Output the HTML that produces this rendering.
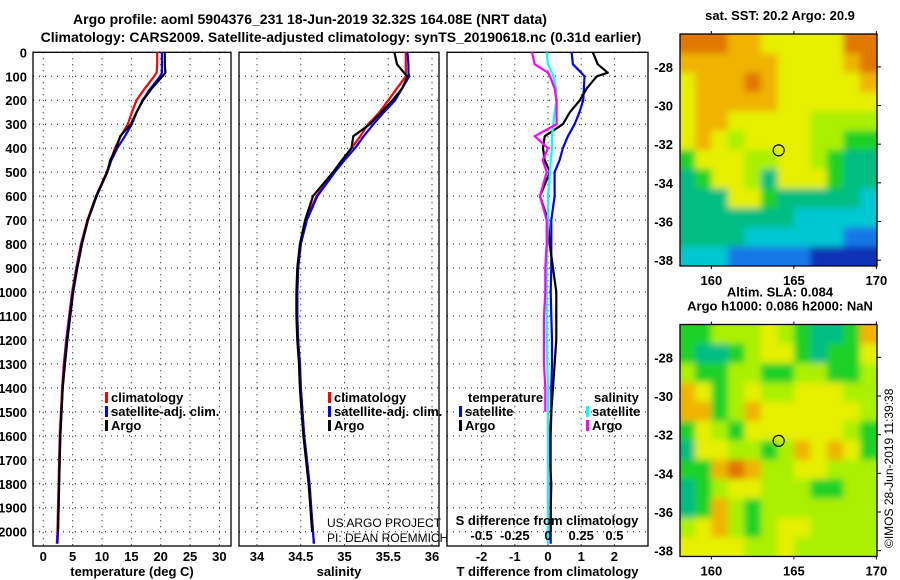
<!DOCTYPE html>
<html><head><meta charset="utf-8"><style>
html,body{margin:0;padding:0;background:#fff;}
svg{display:block;font-family:"Liberation Sans",Arial,sans-serif;}
.b{font-weight:bold;font-size:13px;}
.t{font-weight:bold;font-size:14px;}
</style></head><body>
<svg id="chart" width="900" height="580" viewBox="0 0 900 580" xmlns="http://www.w3.org/2000/svg">
<defs><filter id="blur" x="-5%" y="-5%" width="110%" height="110%"><feGaussianBlur stdDeviation="3.5"/></filter></defs>
<text class="t" x="310" y="24" text-anchor="middle">Argo profile: aoml 5904376_231 18-Jun-2019 32.32S 164.08E (NRT data)</text>
<text class="t" x="341" y="42" text-anchor="middle">Climatology: CARS2009. Satellite-adjusted climatology: synTS_20190618.nc (0.31d earlier)</text>
<g id="g"></g>
</svg>
<script>
const depths=[0,50,85,100,150,200,250,300,350,400,450,500,600,700,800,900,1000,1100,1200,1300,1400,1500,1600,1700,1800,1900,2000,2050];
const tempClim=[19.4,19.4,19.3,18.9,17.3,15.9,15.1,14.4,13.2,12.2,11.5,10.8,9.0,7.5,6.4,5.6,4.9,4.4,3.9,3.5,3.2,3.0,2.8,2.7,2.6,2.5,2.4,2.3];
const tempSat=[20.2,20.2,20.2,19.9,18.3,16.9,15.9,15.1,13.9,12.6,11.6,10.9,9.1,7.6,6.5,5.7,5.0,4.5,4.0,3.6,3.3,3.1,2.9,2.8,2.7,2.6,2.5,2.4];
const tempArgo=[20.7,20.7,20.8,20.3,18.5,17.0,15.9,14.9,13.1,12.4,11.4,10.9,9.0,7.6,6.6,5.8,5.1,4.6,4.1,3.7,3.3,3.1,2.9,2.8,2.7,2.6,2.5,null];
const salClim=[35.7,35.7,35.7,35.7,35.6,35.5,35.4,35.27,35.18,35.08,34.98,34.88,34.68,34.56,34.5,34.47,34.46,34.46,34.47,34.49,34.5,34.52,34.54,34.57,34.6,34.62,34.64,34.65];
const salSat=[35.72,35.73,35.73,35.74,35.66,35.58,35.45,35.33,35.22,35.12,35.0,34.89,34.69,34.57,34.5,34.47,34.46,34.46,34.47,34.49,34.5,34.52,34.54,34.57,34.6,34.62,34.64,34.65];
const salArgo=[35.57,35.6,35.68,35.72,35.66,35.55,35.42,35.29,35.1,35.08,34.97,34.87,34.64,34.55,34.49,34.46,34.45,34.45,34.46,34.48,34.49,34.51,34.53,34.56,34.59,34.61,34.63,null];
const tDiffSat=[0.71,0.75,1.0,1.1,1.08,1.06,0.95,0.8,0.6,0.45,0.35,0.2,0.2,0.1,0.1,0.1,0.08,0.1,0.12,0.12,0.1,0.1,0.08,0.08,0.08,0.08,0.08,0.08];
const tDiffArgo=[1.35,1.5,1.8,1.47,1.17,0.96,0.66,0.45,-0.1,-0.15,-0.1,0.06,-0.24,0.0,0.05,0.15,0.25,0.25,0.25,0.2,0.15,0.1,0.05,0.05,0.1,0.08,0.08,null];
const sDiffSat=[-0.01,0.0,0.03,0.04,0.06,0.065,0.05,0.04,0.03,0.03,0.02,0.015,0.0,0.0,-0.005,-0.01,-0.01,-0.01,-0.01,-0.005,0.0,0.0,0.0,0.0,0.0,0.0,0.0,0.0];
const sDiffArgo=[-0.12,-0.1,0.0,0.015,0.05,0.065,0.065,0.065,-0.1,0.0,-0.04,-0.01,-0.06,-0.01,-0.01,-0.02,-0.02,-0.03,-0.03,-0.03,-0.02,-0.02,null,null,null,null,null,null];
const depthTicks=[0,100,200,300,400,500,600,700,800,900,1000,1100,1200,1300,1400,1500,1600,1700,1800,1900,2000];
const tempTicks=[0,5,10,15,20,25,30];
const salTicks=[34,34.5,35,35.5,36];
const tdTicks=[-2,-1,0,1,2];
const sdTickLabels=["-0.5","-0.25","0","0.25","0.5"];
const sdTicks=[-0.5,-0.25,0,0.25,0.5];
const lonTicks=[160,165,170];
const latTicks=[-28,-30,-32,-34,-36,-38];
const lonCells=[158,159,160,161,162,163,164,165,166,167,168,169];
const sstGrid=[
[8,8,8,7,7,6,6,6,6,6,8,8],
[7,7,7,7,7,7,6,6,6,6,7,8],
[6,7,7,7,8,7,6,6,6,6,6,7],
[6,7,7,7,7,7,6,6,6,6,6,6],
[6,7,7,6,6,6,6,6,5,5,5,5],
[6,7,6,5,6,6,6,6,5,5,4,4],
[4,6,6,6,5,5,6,6,5,4,3,3],
[3,4,6,6,5,3,6,6,6,4,3,3],
[3,3,3,6,6,4,3,3,3,3,3,2],
[3,3,3,3,3,3,3,2,2,2,2,2],
[3,3,3,3,2,2,2,2,2,2,1,1],
[2,2,2,1,1,1,1,1,0,0,0,0]];
const slaGrid=[
[4,4,5,5,5,6,5,4,3,3,4,7],
[4,3,3,4,5,6,6,4,3,4,4,6],
[5,4,4,5,5,4,4,5,5,4,4,5],
[7,6,4,5,6,5,5,6,6,6,5,5],
[7,7,4,5,7,6,6,6,6,6,6,5],
[4,6,5,4,6,6,6,6,6,6,5,4],
[3,6,6,5,5,4,5,7,6,7,6,4],
[4,4,7,8,7,5,5,6,6,5,5,5],
[3,4,5,6,6,5,5,5,4,4,5,5],
[3,4,7,5,4,5,5,5,5,5,5,5],
[5,6,7,5,4,5,6,6,5,5,5,5],
[6,6,6,6,5,5,6,5,5,5,5,5]];
const palette=["#0a32b4","#1478e6","#00c8d2","#00be82","#1ed228","#aaf000","#e6f000","#f0b400","#e07800"];
const floatLon=164.08, floatLat=-32.32;

const NS="http://www.w3.org/2000/svg";
const G=document.getElementById('g');
function el(t,a,p){const e=document.createElementNS(NS,t);for(const k in a)e.setAttribute(k,a[k]);(p||G).appendChild(e);return e;}
function yD(d){return 52.3+d*0.2397;}
const xT=v=>43.3+v*5.87, xS=v=>257+(v-34)*87.5, xTD=v=>548+v*33.2, xSD=v=>548+v*132.8;

function panel(name,x0,x1,xf,xticks,xlabels,xtitle){
  const g=el('g',{});
  
  
  const top=52.3,bot=546;
  depthTicks.forEach(d=>{const l=el('line',{x1:x0,x2:x1,y1:yD(d),y2:yD(d),stroke:'#000','stroke-dasharray':'1,5','stroke-width':1},g);});
  xticks.forEach((v,i)=>{const x=xf(v);
    const l=el('line',{x1:x,x2:x,y1:top,y2:bot,stroke:'#000','stroke-dasharray':'1,5'},g);
    const t=el('text',{x:x,y:561,'text-anchor':'middle',class:'b'},g);t.textContent=xlabels[i];});
  const r=el('rect',{x:x0,y:top,width:x1-x0,height:bot-top,fill:'none',stroke:'#000','stroke-width':1.3},g);
  const t=el('text',{x:(x0+x1)/2,y:576,'text-anchor':'middle',class:'b'},g);t.textContent=xtitle;
  return g;
}
function line(g,arr,xf,color,name){
  let d='';let pen=false;
  arr.forEach((v,i)=>{if(v===null){pen=false;return;}d+=(pen?'L':'M')+xf(v).toFixed(1)+','+yD(depths[i]).toFixed(1);pen=true;});
  const p=el('path',{d:d,fill:'none',stroke:color,'stroke-width':2.2,'stroke-linejoin':'round'},g);
  
  
}
function txt(g,x,y,s,name,extra){const t=el('text',Object.assign({x:x,y:y,class:'b'},extra||{}),g);t.textContent=s;return t;}
function legend(g,x,y,color,s,name){const r=el('rect',{x:x,y:y-10,width:3,height:11,fill:color},g);txt(g,x+6,y,s,name);}

depthTicks.forEach(d=>{const t=el('text',{x:27,y:yD(d)+5,'text-anchor':'end',class:'b'});t.textContent=d;});

const p1=panel('temperature-panel',33,231,xT,tempTicks,tempTicks.map(String),'temperature (deg C)');
line(p1,tempClim,xT,'#ff0000','temp-climatology-line');
line(p1,tempSat,xT,'#0000ff','temp-satellite-line');
line(p1,tempArgo,xT,'#000000','temp-argo-line');
legend(p1,105,402,'#ff0000','climatology','legend-climatology');
legend(p1,105,416,'#0000ff','satellite-adj. clim.','legend-satellite');
legend(p1,105,430,'#000000','Argo','legend-argo');

const p2=panel('salinity-panel',239,439,xS,salTicks,salTicks.map(String),'salinity');
line(p2,salClim,xS,'#ff0000','sal-climatology-line');
line(p2,salSat,xS,'#0000ff','sal-satellite-line');
line(p2,salArgo,xS,'#000000','sal-argo-line');
legend(p2,328,402,'#ff0000','climatology','legend-climatology');
legend(p2,328,416,'#0000ff','satellite-adj. clim.','legend-satellite');
legend(p2,328,430,'#000000','Argo','legend-argo');
txt(p2,327,527,'US ARGO PROJECT','credit-project',{class:'',style:'font-size:12px'});
txt(p2,327,542,'PI: DEAN ROEMMICH','credit-pi',{class:'',style:'font-size:12px'});

const p3=panel('difference-panel',447,648,xTD,tdTicks,tdTicks.map(String),'T difference from climatology');
line(p3,tDiffSat,xTD,'#0000ff','tdiff-satellite-line');
line(p3,tDiffArgo,xTD,'#000000','tdiff-argo-line');
line(p3,sDiffSat,xSD,'#00ffff','sdiff-satellite-line');
line(p3,sDiffArgo,xSD,'#ff00ff','sdiff-argo-line');
txt(p3,468,402,'temperature','legend-temperature-heading');
legend(p3,459,416,'#0000ff','satellite','legend-t-satellite');
legend(p3,459,430,'#000000','Argo','legend-t-argo');
txt(p3,594,402,'salinity','legend-salinity-heading');
legend(p3,586,416,'#00ffff','satellite','legend-s-satellite');
legend(p3,586,430,'#ff00ff','Argo','legend-s-argo');
txt(p3,547,525,'S difference from climatology','s-diff-axis-title',{'text-anchor':'middle'});
sdTicks.forEach((v,i)=>txt(p3,xSD(v),540,sdTickLabels[i],'s-diff-tick-label',{'text-anchor':'middle'}));

const mx0=680,mx1=877,lonL=158.1,pxLon=16.5,pxLat=19.33;
function map(name,top,grid,title1,title2){
  const g=el('g',{});
  
  
  const latTop=-26.3;
  const X=lon=>mx0+(lon-lonL)*pxLon, Y=lat=>top+(latTop-lat)*pxLat;
  const bot=Y(-38.3);
  const cp=el('clipPath',{id:name+'-clip'},g);el('rect',{x:mx0,y:top,width:mx1-mx0,height:bot-top},cp);
  const outer=el('g',{'clip-path':'url(#'+name+'-clip)'},g);
  const cg=el('g',{filter:'url(#blur)'},outer);
  grid.forEach((row,r)=>row.forEach((v,c)=>{
    const lat0=-26.3-r*1.0;
    let x=X(lonCells[c]),w=pxLon+0.6,y=Y(lat0),h=pxLat+0.6;
    if(c===0){x-=10;w+=10;} if(c===row.length-1){w+=10;}
    if(r===0){y-=10;h+=10;} if(r===grid.length-1){h+=10;}
    const rc=el('rect',{x:x.toFixed(1),y:y.toFixed(1),width:w,height:h,fill:palette[v]},cg);
    
    
  }));
  const fr=el('rect',{x:mx0,y:top,width:mx1-mx0,height:bot-top,fill:'none',stroke:'#000','stroke-width':1.3},g);
  lonTicks.forEach(v=>{el('line',{x1:X(v),x2:X(v),y1:top-3,y2:top,stroke:'#000'},g);el('line',{x1:X(v),x2:X(v),y1:bot,y2:bot+3,stroke:'#000'},g);txt(g,X(v),bot+19,String(v),'lon-tick-label',{'text-anchor':'middle'});});
  latTicks.forEach(v=>{el('line',{x1:mx1,x2:mx1+4,y1:Y(v),y2:Y(v),stroke:'#000'},g);txt(g,673,Y(v)+5,String(v),'lat-tick-label',{'text-anchor':'end'});});
  const ci=el('circle',{cx:X(floatLon),cy:Y(floatLat),r:5.5,fill:'none',stroke:'#000','stroke-width':1.2},g);
  txt(g,780,top-14-(title2?14:0),title1,'map-title',{'text-anchor':'middle'});
  if(title2)txt(g,780,top-14,title2,'map-subtitle',{'text-anchor':'middle'});
}
map('sst-map',34,sstGrid,'sat. SST: 20.2 Argo: 20.9');
map('sla-map',324.5,slaGrid,'Altim. SLA: 0.084','Argo h1000: 0.086 h2000: NaN');
txt(G,0,0,'©IMOS 28-Jun-2019 11:39:38','timestamp',{transform:'translate(893,548) rotate(-90)',class:'',style:'font-size:12px'});
</script>
</body></html>
